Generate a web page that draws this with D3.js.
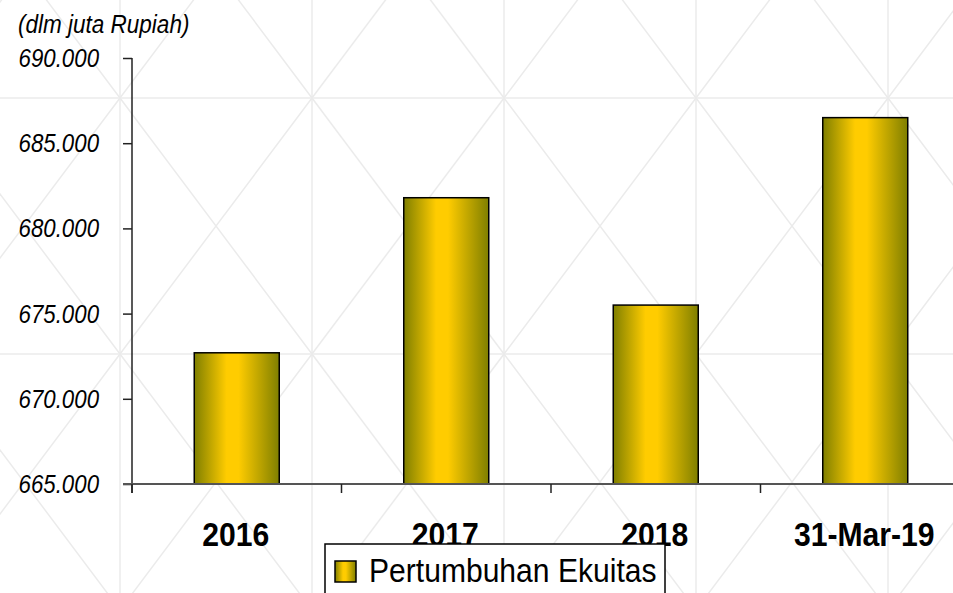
<!DOCTYPE html>
<html>
<head>
<meta charset="utf-8">
<script src="https://cdn.jsdelivr.net/npm/d3@7"></script>
<style>
  body { margin: 0; background: #fff; }
  svg { display: block; }
</style>
</head>
<body>
<script>
// Pertumbuhan Ekuitas bar chart

// data
const categories = ["2016", "2017", "2018", "31-Mar-19"];
const ekuitas = [672700, 681800, 675500, 686500]; // dlm juta Rupiah
const yTicks = [665000, 670000, 675000, 680000, 685000, 690000];
const seriesName = "Pertumbuhan Ekuitas";
const unitLabel = "(dlm juta Rupiah)";

const w = 953;
const h = 593;
const sans = "'Liberation Sans', Arial, sans-serif";

const svg = d3.select("body")
  .append("svg")
  .attr("width", w)
  .attr("height", h);

// gradient for the bars
const defs = svg.append("defs");
const grad = defs.append("linearGradient")
  .attr("id", "barGrad")
  .attr("x1", "0%").attr("x2", "100%")
  .attr("y1", "0%").attr("y2", "0%");
grad.append("stop").attr("offset", "0%").attr("stop-color", "#7f7f00");
grad.append("stop").attr("offset", "38%").attr("stop-color", "#ffcc00");
grad.append("stop").attr("offset", "52%").attr("stop-color", "#ffcc00");
grad.append("stop").attr("offset", "100%").attr("stop-color", "#7f7f00");

// background pattern (light grid with diagonals)
const bg = svg.append("g")
  .attr("stroke", "#ebebeb")
  .attr("stroke-width", 1.5)
  .attr("fill", "none");
const cw = 192, ch = 256, ox = 120, oy = 98;
d3.range(-1, 6).forEach(i => {
  bg.append("line")
    .attr("x1", ox + i * cw).attr("x2", ox + i * cw)
    .attr("y1", 0).attr("y2", h);
});
d3.range(-1, 3).forEach(j => {
  bg.append("line")
    .attr("x1", 0).attr("x2", w)
    .attr("y1", oy + j * ch).attr("y2", oy + j * ch);
});
d3.range(-1, 6).forEach(i => {
  d3.range(-1, 3).forEach(j => {
    const x0 = ox + i * cw, y0 = oy + j * ch;
    bg.append("line").attr("x1", x0).attr("y1", y0).attr("x2", x0 + cw).attr("y2", y0 + ch);
    bg.append("line").attr("x1", x0 + cw).attr("y1", y0).attr("x2", x0).attr("y2", y0 + ch);
  });
});

// scales
const yScale = d3.scaleLinear()
  .domain([665000, 690000])
  .range([484, 58]);

const xScale = d3.scaleBand()
  .domain(categories)
  .range([132, 970])
  .padding(0);

const barW = 85;
const fmt = d3.formatLocale({ decimal: ",", thousands: ".", grouping: [3], currency: ["Rp", ""] }).format(",");

// text squeezed sideways (source chart uses a narrow face)
function squeezed(sel, x, y, sx) {
  return sel.append("text")
    .attr("transform", "translate(" + x + "," + y + ") scale(" + sx + ",1)");
}

// bars
svg.selectAll("rect.bar")
  .data(ekuitas)
  .enter()
  .append("rect")
  .attr("class", "bar")
  .attr("x", (d, i) => xScale(categories[i]) + xScale.bandwidth() / 2 - barW / 2)
  .attr("y", d => yScale(d))
  .attr("width", barW)
  .attr("height", d => yScale(665000) - yScale(d))
  .attr("fill", "url(#barGrad)")
  .attr("stroke", "#000")
  .attr("stroke-width", 1.5);

// left axis
const leftAxis = d3.axisLeft(yScale)
  .tickValues(yTicks)
  .tickSize(9)
  .tickSizeOuter(0)
  .tickPadding(25)
  .tickFormat(d => fmt(d));

const gy = svg.append("g")
  .attr("transform", "translate(132,0)")
  .call(leftAxis);
gy.select(".domain").remove();
gy.selectAll(".tick line").attr("stroke", "#222").attr("stroke-width", 1.5);
gy.selectAll(".tick text")
  .attr("fill", "#000")
  .attr("x", -33 / 0.84)
  .attr("transform", "scale(0.84,1)")
  .style("font-family", sans)
  .style("font-style", "italic")
  .style("font-size", "26.5px");
gy.append("line")
  .attr("x1", 0).attr("x2", 0)
  .attr("y1", yScale(690000)).attr("y2", 493)
  .attr("stroke", "#222").attr("stroke-width", 1.5);

// bottom axis
const gx = svg.append("g");
gx.append("line")
  .attr("x1", 123).attr("x2", w)
  .attr("y1", yScale(665000)).attr("y2", yScale(665000))
  .attr("stroke", "#555").attr("stroke-width", 2);
gx.selectAll("line.xtick")
  .data(categories)
  .enter()
  .append("line")
  .attr("class", "xtick")
  .attr("x1", d => xScale(d)).attr("x2", d => xScale(d))
  .attr("y1", yScale(665000)).attr("y2", yScale(665000) + 9)
  .attr("stroke", "#222").attr("stroke-width", 1.5);
categories.forEach(c => {
  squeezed(gx, xScale(c) + xScale.bandwidth() / 2 - 1, 546, 0.9)
    .attr("text-anchor", "middle")
    .style("font-family", sans)
    .style("font-weight", "bold")
    .style("font-size", "33.5px")
    .text(c);
});

// unit label
squeezed(svg, 18, 33, 0.85)
  .style("font-family", sans)
  .style("font-style", "italic")
  .style("font-size", "26.5px")
  .text(unitLabel);

// legend
const lg = svg.append("g");
lg.append("rect")
  .attr("x", 325).attr("y", 544)
  .attr("width", 340).attr("height", 60)
  .attr("fill", "#fff")
  .attr("stroke", "#000")
  .attr("stroke-width", 1.5);
lg.append("rect")
  .attr("x", 335).attr("y", 561)
  .attr("width", 21).attr("height", 21)
  .attr("fill", "url(#barGrad)")
  .attr("stroke", "#000")
  .attr("stroke-width", 1.5);
squeezed(lg, 369, 582, 0.92)
  .style("font-family", sans)
  .style("font-size", "32.7px")
  .text(seriesName);
</script>
</body>
</html>
